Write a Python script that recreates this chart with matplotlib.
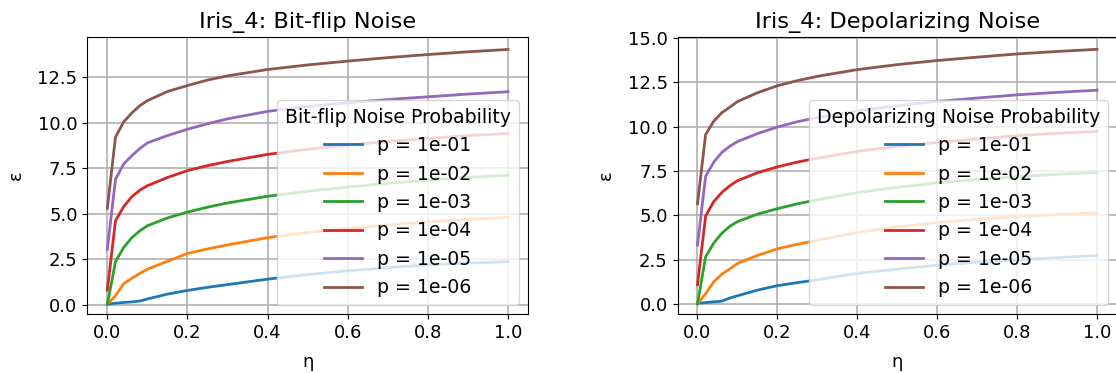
import matplotlib
matplotlib.use("Agg")
import matplotlib.pyplot as plt
from matplotlib.ticker import MultipleLocator

plt.rcParams["font.size"] = 13

# noise strength grid
eta = [0.0, 0.0204, 0.0408, 0.0612, 0.0816, 0.1, 0.15, 0.2, 0.25, 0.3,
       0.4, 0.5, 0.6, 0.7, 0.8, 0.9, 1.0]

probs = ["1e-01", "1e-02", "1e-03", "1e-04", "1e-05", "1e-06"]

# Bit-flip noise: epsilon per noise probability
bf_p1 = [0.05, 0.10, 0.14, 0.17, 0.22, 0.33, 0.60, 0.80, 0.97, 1.12,
         1.42, 1.67, 1.88, 2.05, 2.20, 2.30, 2.38]
bf_p2 = [0.03, 0.51, 1.17, 1.47, 1.74, 1.97, 2.40, 2.83, 3.08, 3.30,
         3.70, 3.98, 4.20, 4.40, 4.57, 4.70, 4.81]
bf_p3 = [0.03, 2.38, 3.16, 3.70, 4.08, 4.35, 4.78, 5.10, 5.37, 5.60,
         5.97, 6.25, 6.47, 6.68, 6.86, 7.00, 7.13]
bf_p4 = [0.82, 4.63, 5.40, 5.95, 6.31, 6.55, 7.00, 7.38, 7.65, 7.88,
         8.27, 8.55, 8.78, 8.98, 9.15, 9.30, 9.42]
bf_p5 = [3.06, 6.90, 7.74, 8.20, 8.60, 8.90, 9.30, 9.65, 9.95, 10.22,
         10.63, 10.90, 11.10, 11.28, 11.43, 11.58, 11.71]
bf_p6 = [5.31, 9.22, 10.05, 10.55, 10.95, 11.22, 11.72, 12.05, 12.35, 12.58,
         12.93, 13.18, 13.39, 13.58, 13.75, 13.90, 14.03]

# Depolarizing noise: epsilon per noise probability
dp_p1 = [0.06, 0.10, 0.14, 0.18, 0.36, 0.48, 0.80, 1.05, 1.22, 1.38,
         1.74, 1.98, 2.20, 2.37, 2.50, 2.63, 2.75]
dp_p2 = [0.03, 0.60, 1.27, 1.70, 2.00, 2.30, 2.75, 3.12, 3.38, 3.60,
         4.05, 4.35, 4.60, 4.78, 4.93, 5.05, 5.14]
dp_p3 = [0.03, 2.68, 3.45, 4.00, 4.40, 4.65, 5.07, 5.38, 5.65, 5.88,
         6.28, 6.58, 6.83, 7.02, 7.18, 7.31, 7.42]
dp_p4 = [1.10, 4.97, 5.78, 6.30, 6.68, 6.95, 7.40, 7.73, 8.00, 8.22,
         8.60, 8.88, 9.10, 9.30, 9.48, 9.62, 9.72]
dp_p5 = [3.33, 7.20, 8.00, 8.55, 8.90, 9.15, 9.60, 9.97, 10.27, 10.50,
         10.88, 11.17, 11.41, 11.60, 11.78, 11.92, 12.04]
dp_p6 = [5.65, 9.55, 10.30, 10.78, 11.10, 11.40, 11.90, 12.29, 12.58, 12.82,
         13.20, 13.48, 13.71, 13.90, 14.08, 14.22, 14.34]

bitflip = [bf_p1, bf_p2, bf_p3, bf_p4, bf_p5, bf_p6]
depol = [dp_p1, dp_p2, dp_p3, dp_p4, dp_p5, dp_p6]

W, H = 1116, 373
fig = plt.figure(figsize=(W / 100, H / 100), dpi=100)


def px_axes(x0, x1, y0, y1):
    return fig.add_axes([x0 / W, 1 - y1 / H, (x1 - x0) / W, (y1 - y0) / H])


ax1 = px_axes(87.3, 528.0, 36.7, 314.3)
ax2 = px_axes(677.5, 1117.0, 36.7, 314.3)

panels = [
    (ax1, bitflip, "Iris_4: Bit-flip Noise", "Bit-flip Noise Probability", (-0.51, 14.73)),
    (ax2, depol, "Iris_4: Depolarizing Noise", "Depolarizing Noise Probability", (-0.56, 15.05)),
]

for ax, series, title, leg_title, ylim in panels:
    for p, vals in zip(probs, series):
        ax.plot(eta, vals, lw=2, label=f"p = {p}")
    ax.set_title(title, fontsize=16.2)
    ax.set_xlabel("η", labelpad=8)
    ax.set_ylabel("ε", labelpad=9)
    ax.set_xlim(-0.05, 1.05)
    ax.set_ylim(*ylim)
    ax.yaxis.set_major_locator(MultipleLocator(2.5))
    ax.grid(True, color="#b0b0b0", lw=1.2)
    ax.legend(title=leg_title, loc="lower right", fontsize=13.6,
              title_fontsize=13.6)

fig.savefig("out.png", dpi=100)
